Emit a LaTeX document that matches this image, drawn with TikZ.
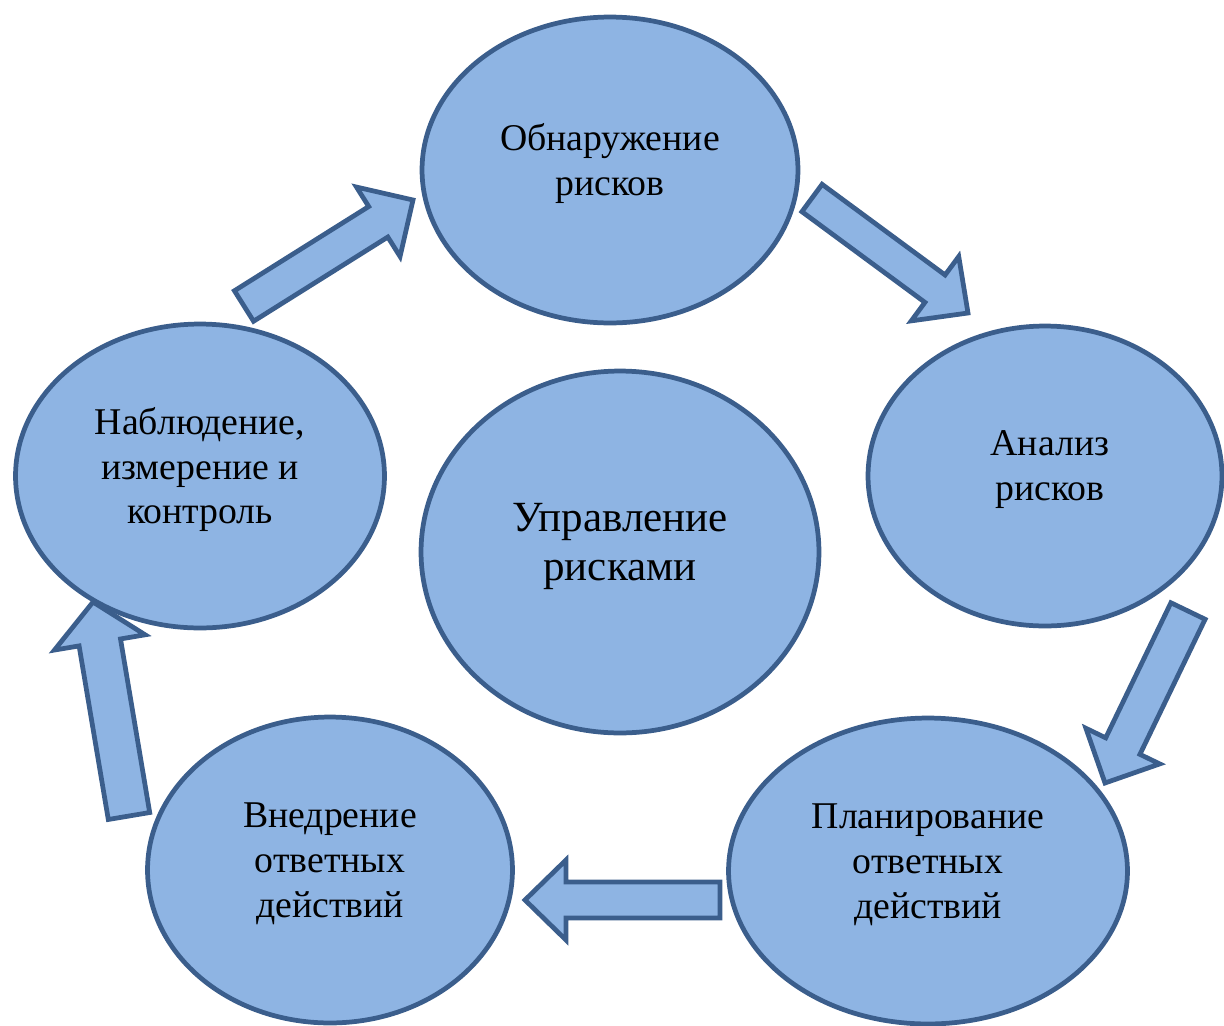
\documentclass[tikz,border=0pt]{standalone}
\usepackage{fontspec}
\setmainfont{Liberation Serif}
\usetikzlibrary{shapes.geometric,calc}

\definecolor{stagefill}{HTML}{8EB4E3}
\definecolor{stageline}{HTML}{3B5E8C}

% block arrow: start, tip, shaft half width, head half width
\newcommand{\blockarrow}[4]{%
\coordinate (#1hb) at ($(#2)!0.82cm!(#1)$);
\draw[arrowbox] ($(#1)!#3!90:(#2)$) -- ($(#1hb)!#3!90:(#2)$) -- ($(#1hb)!#4!90:(#2)$)
	-- (#2) -- ($(#1hb)!#4!-90:(#2)$) -- ($(#1hb)!#3!-90:(#2)$) -- ($(#1)!#3!-90:(#2)$) -- cycle;
}

\begin{document}
\begin{tikzpicture}[x=0.02cm, y=-0.02cm,
	stage/.style={ellipse, draw=stageline, fill=stagefill, line width=2.7pt, inner sep=0pt},
	stagetext/.style={align=center, yshift=0.13cm, font=\fontsize{21.5}{25.6}\selectfont},
	arrowbox/.style={draw=stageline, fill=stagefill, line width=2.7pt, line join=miter}]

\useasboundingbox (0,0) rectangle (1224,1025);

% stages of the cycle
\node[stage, minimum width=7.52cm, minimum height=6.12cm,
	label={[stagetext]center:{Обнаружение\\рисков}}] (detect) at (610,170) {};
\node[stage, minimum width=7.08cm, minimum height=6.0cm,
	label={[stagetext, xshift=0.1cm]center:{Анализ\\рисков}}] (analysis) at (1045,476) {};
\node[stage, minimum width=7.98cm, minimum height=6.12cm,
	label={[stagetext]center:{Планирование\\ответных\\действий}}] (planning) at (928,871) {};
\node[stage, minimum width=7.3cm, minimum height=6.12cm,
	label={[stagetext]center:{Внедрение\\ответных\\действий}}] (response) at (330,870) {};
\node[stage, minimum width=7.38cm, minimum height=6.08cm,
	label={[stagetext]center:{Наблюдение,\\измерение и\\контроль}}] (monitor) at (200,476) {};

% centre
\node[stage, minimum width=7.96cm, minimum height=7.24cm,
	label={[stagetext, yshift=-0.02cm, font=\fontsize{24.5}{28.4}\selectfont]center:{Управление\\рисками}}] (risk) at (620,552) {};

% arrows between the stages
\coordinate (a1s) at (244,306); \coordinate (a1e) at (413,200);
\coordinate (a2s) at (812,198); \coordinate (a2e) at (968,313);
\coordinate (a3s) at (1188,611); \coordinate (a3e) at (1105,783);
\coordinate (a4s) at (720,900); \coordinate (a4e) at (525,900);
\coordinate (a5s) at (129,816); \coordinate (a5e) at (93,602);

\blockarrow{a1s}{a1e}{0.36cm}{0.82cm}
\blockarrow{a2s}{a2e}{0.34cm}{0.8cm}
\blockarrow{a3s}{a3e}{0.38cm}{0.82cm}
\blockarrow{a4s}{a4e}{0.36cm}{0.8cm}
\blockarrow{a5s}{a5e}{0.42cm}{0.92cm}

\end{tikzpicture}
\end{document}
